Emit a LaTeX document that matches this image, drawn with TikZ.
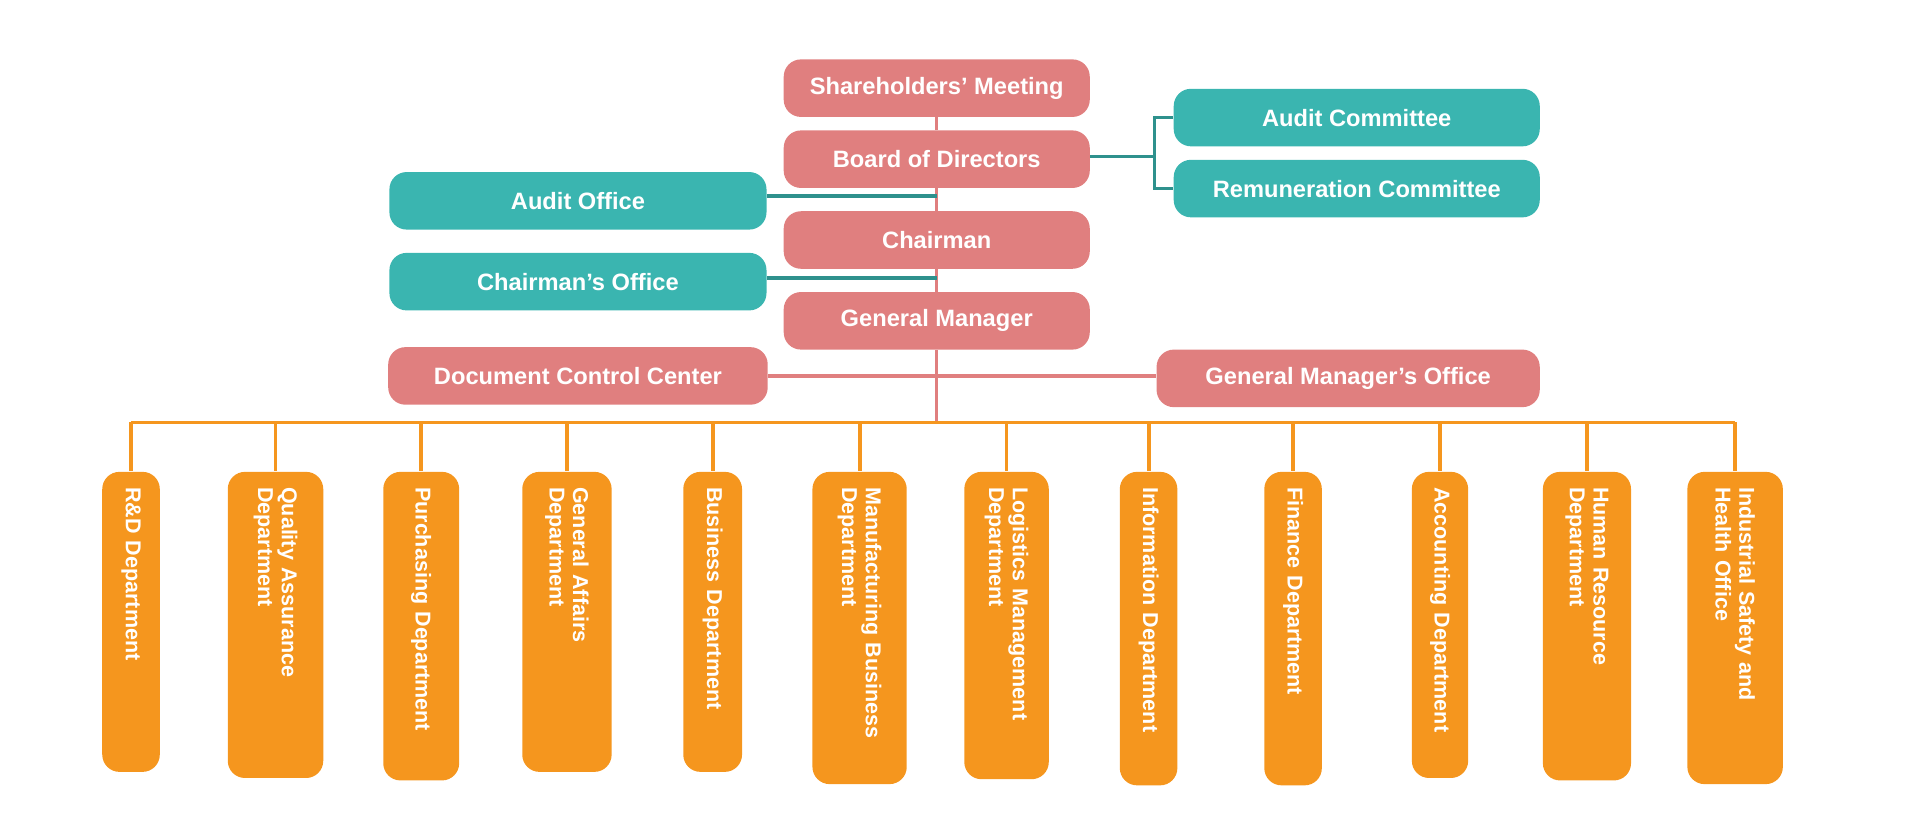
\documentclass[tikz,border=0pt]{standalone}
\usepackage{fontspec}
\setmainfont{Liberation Sans}
\usetikzlibrary{positioning}
\definecolor{boardpink}{HTML}{E07F7F}
\definecolor{auditteal}{HTML}{3AB5B0}
\definecolor{deptorange}{HTML}{F5961E}
\begin{document}
\begin{tikzpicture}[
		x=0.02cm, y=-0.02cm,
		every node/.style={text=white, font=\bfseries\fontsize{11}{12}\selectfont},
		topBox/.style={rectangle, rounded corners=8pt, fill=boardpink, minimum width=5cm, minimum height=0.94cm, inner sep=2pt},
		sideBox/.style={rectangle, rounded corners=8pt, fill=auditteal, minimum width=6.16cm, minimum height=0.94cm, inner sep=2pt},
		committeeBox/.style={sideBox, minimum width=5.98cm},
		pinkSide/.style={topBox, minimum width=6.2cm},
		pinkLine/.style={draw=boardpink, line width=1.6pt},
		tealLine/.style={draw=auditteal!80!black, line width=1.6pt},
		deptLine/.style={draw=deptorange, line width=1.8pt},
		]
		\useasboundingbox (0,0) rectangle (1568,666);
		% top levels
		\node[topBox] (meeting) at (765,72) {Shareholders' Meeting};
		\node[topBox] (board) at (765,130) {Board of Directors};
		\node[topBox] (chair) at (765,196) {Chairman};
		\node[topBox] (gm) at (765,262) {General Manager};
		\node[sideBox] (auditOff) at (472,164) {Audit Office};
		\node[sideBox] (chairOff) at (472,230) {Chairman's Office};
		\node[committeeBox] (auditCom) at (1108,96) {Audit Committee};
		\node[committeeBox] (remCom) at (1108,154) {Remuneration Committee};
		\node[pinkSide] (docCtr) at (472,307) {Document Control Center};
		\node[pinkSide, minimum width=6.26cm] (gmOff) at (1101,309) {General Manager's Office};
		\coordinate (bus) at (765,345);
		\coordinate (fork) at (943,128);
		
		\draw[pinkLine] (meeting) -- (board) -- (chair) -- (gm) -- (bus);
		\draw[tealLine] (auditOff.east |- 0,160) -- (765,160);
		\draw[tealLine] (chairOff.east |- 0,227) -- (765,227);
		\draw[pinkLine] (docCtr.east |- 0,307) -- (gmOff.west |- 0,307);
		\draw[tealLine] (board.east |- fork) -- (fork);
		\draw[tealLine] (auditCom.west) -| (fork) |- (remCom.west);
		
		% departments
		\draw[deptLine] (107,345) -- (1417,345);
		\foreach \x/\w/\b/\name [count=\i] in {
			107/47/630/{R\&D Department},
			225/78/635/{Quality Assurance\\Department},
			344/62/637/{Purchasing Department},
			463/73/630/{General Affairs\\Department},
			582/48/630/{Business Department},
			702/77/640/{Manufacturing Business\\Department},
			822/69/636/{Logistics Management\\Department},
			938/47/641/{Information Department},
			1056/47/641/{Finance Department},
			1176/46/635/{Accounting Department},
			1296/72/637/{Human Resource\\Department},
			1417/78/640/{Industrial Safety and\\Health Office}}{
			\pgfmathsetmacro{\len}{(\b-385)*0.02}
			\pgfmathsetmacro{\wid}{\w*0.02}
			\node[rectangle, rounded corners=8pt, fill=deptorange, rotate=-90, anchor=west,
				minimum width=\len cm, minimum height=\wid cm, text width=\len cm-0.5cm,
				align=left, inner sep=1pt, font=\bfseries\fontsize{10}{11}\selectfont]
				(dept\i) at (\x,385) {\name};
			\draw[deptLine] (\x,345) -- (dept\i.west);
		}
	\end{tikzpicture}
\end{document}
